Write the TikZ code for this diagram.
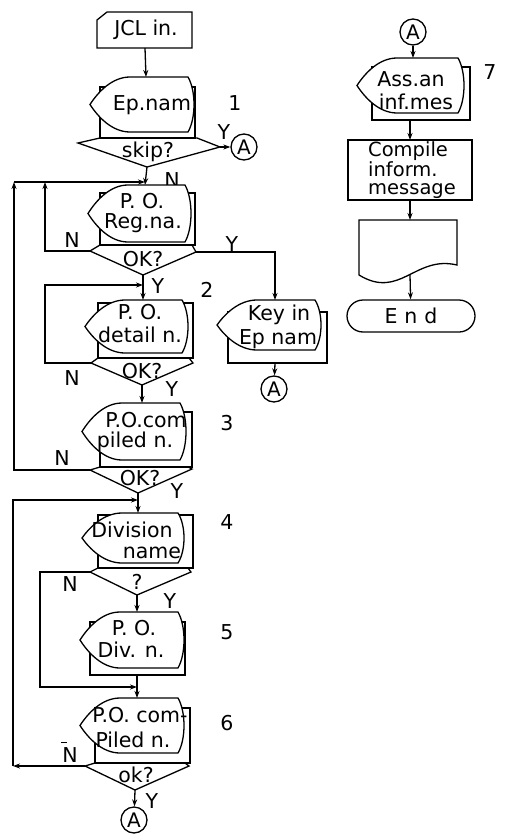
\documentclass[tikz,border=0pt]{standalone}
\usepackage{fontspec}
\setmainfont{DejaVu Sans}
\usetikzlibrary{arrows.meta}
\newcommand{\dispshape}[4]{%
  \draw[shp] (#1,{(#3+#4)/2})
    .. controls ({#1+8},{(#3+#4)/2-0.45*(#4-#3)/2}) and ({#1+22},#3) .. ({#1+40},#3)
    -- (#2,#3)
    .. controls ({#2+8},{#3+0.25*(#4-#3)}) and ({#2+8},{#4-0.25*(#4-#3)}) .. (#2,#4)
    -- ({#1+40},#4)
    .. controls ({#1+22},#4) and ({#1+8},{(#3+#4)/2+0.45*(#4-#3)/2}) .. (#1,{(#3+#4)/2})
    -- cycle;}
\begin{document}
\begin{tikzpicture}[x=1pt,y=-1pt,
  ln/.style={line width=1.3pt},
  arr/.style={line width=1.3pt,-{Stealth[length=7pt,width=5pt]}},
  shp/.style={draw,line width=1.3pt,fill=white},
  txt/.style={font=\fontsize{20.5}{22}\selectfont,inner sep=0pt},
  circ/.style={draw,circle,line width=1.3pt,minimum size=26pt,inner sep=0pt,font=\fontsize{20}{22}\selectfont}]
\useasboundingbox[fill=white] (0,0) rectangle (513,835);

% ---------- JCL card
\draw[shp] (97,20) -- (107,12) -- (192,12) -- (192,48) -- (97,48) -- cycle;
\node[txt] (jcl) at (146,30) {JCL in.};
\coordinate (jclb) at (145,48);

% ---------- display 1
\draw[shp] (100,87) rectangle (195,138);
\dispshape{90}{188}{77}{132}
\node[txt] (t1) at (152,105) {Ep.nam};
\coordinate (d1t) at (146,77);
\draw[ln] (100,138) -- (197,138) -- (220,147) -- (147,167) -- (78,143) -- cycle;
\node[txt] (q1) at (148,152) {skip?};
\coordinate (d1r) at (220,147);
\coordinate (d1b) at (147,167);
\node[circ] (a1) at (244,147) {A};
\node[txt] (y1) at (224,132) {Y};
\node[txt] (n1) at (172,180) {N};
\node[txt] (num1) at (235,103) {1};
\draw[arr] (jclb) -- (d1t);
\draw[arr] (d1r) -- (a1);

% ---------- display 2
\draw[shp] (100,193) rectangle (195,245);
\dispshape{88}{185}{185}{242}
\node[txt] (t2a) at (142,201) {P. O.};
\node[txt] (t2b) at (143,223) {Reg.na.};
\coordinate (d2t) at (145,185);
\draw[ln] (100,245) -- (192,245) -- (196,252) -- (143,275) -- (90,251) -- cycle;
\node[txt] (q2) at (143,259) {OK?};
\coordinate (d2l) at (90,251);
\coordinate (d2r) at (196,252);
\coordinate (d2b) at (143,275);
\node[txt] (n2) at (72,240) {N};
\node[txt] (y2r) at (232,244) {Y};
\node[txt] (y2) at (158,286) {Y};
\node[txt] (num2) at (207,290) {2};
\draw[arr] (d1b) -- (d2t);
\coordinate (j1a) at (14,182);
\coordinate (j1) at (145,182);
\draw[arr] (j1a) -- (j1);
\draw[arr] (d2l) -- (45,251) -- (45,182);

% ---------- key in
\draw[shp] (228,312) rectangle (327,363);
\dispshape{217}{315}{300}{350}
\node[txt] (tk1) at (279,315) {Key in};
\node[txt] (tk2) at (278,339) {Ep nam};
\coordinate (k1t) at (275,300);
\coordinate (k1b) at (275,363);
\node[circ] (a2) at (274,389) {A};
\draw[arr] (d2r) -- (d2r -| k1t) -- (k1t);
\draw[arr] (k1b) -- (a2);

% ---------- display 3
\draw[shp] (98,303) rectangle (193,358);
\dispshape{85}{182}{300}{353}
\node[txt] (t3a) at (140,312) {P. O.};
\node[txt] (t3b) at (140,335) {detail n.};
\coordinate (d3t) at (143,300);
\draw[ln] (98,358) -- (189,358) -- (193,363) -- (142,385) -- (91,363) -- cycle;
\node[txt] (q3) at (142,371) {OK?};
\coordinate (d3l) at (91,363);
\coordinate (d3b) at (142,385);
\node[txt] (n3) at (72,378) {N};
\node[txt] (y3) at (172,389) {Y};
\draw[arr] (d2b) -- (d3t);
\coordinate (j2) at (143,285);
\draw[arr] (d3l) -- (45,363) -- (45,285) -- (j2);

% ---------- display 4
\draw[shp] (100,412) rectangle (192,467);
\dispshape{82}{180}{403}{460}
\node[txt] (t4a) at (146,420) {P.O.com};
\node[txt] (t4b) at (135,442) {piled n.};
\node[txt] (num3) at (227,423) {3};
\coordinate (d4t) at (142,403);
\draw[ln] (100,467) -- (188,467) -- (192,469) -- (138,493) -- (90,470) -- cycle;
\node[txt] (q4) at (140,478) {OK?};
\coordinate (d4l) at (90,470);
\coordinate (d4b) at (138,493);
\node[txt] (n4) at (62,458) {N};
\node[txt] (y4) at (177,491) {Y};
\draw[arr] (d3b) -- (d4t);
\draw[arr] (d4l) -- (14,470) -- (j1a);

% ---------- display 5
\draw[shp] (98,515) rectangle (193,568);
\dispshape{82}{178}{513}{563}
\node[txt] (t5a) at (132,530) {Division};
\node[txt] (t5b) at (152,553) {name};
\node[txt] (num4) at (227,522) {4};
\coordinate (d5t) at (138,513);
\draw[ln] (98,568) -- (188,568) -- (191,572) -- (137,595) -- (90,572) -- cycle;
\node[txt] (q5) at (137,582) {?};
\coordinate (d5l) at (90,572);
\coordinate (d5b) at (137,595);
\node[txt] (n5) at (70,584) {N};
\node[txt] (y5) at (170,601) {Y};
\draw[arr] (d4b) -- (d5t);
\coordinate (j3) at (138,500);

% ---------- display 6
\draw[shp] (90,622) rectangle (185,675);
\dispshape{80}{178}{612}{668}
\node[txt] (t6a) at (134,628) {P. O.};
\node[txt] (t6b) at (131,650) {Div. n.};
\node[txt] (num5) at (227,632) {5};
\coordinate (d6t) at (137,612);
\coordinate (d6b) at (137,675);
\draw[arr] (d5b) -- (d6t);
\coordinate (j4) at (137,687);
\draw[arr] (d5l) -- (40,572) -- (40,687) -- (j4);

% ---------- display 7
\draw[shp] (95,708) rectangle (190,763);
\dispshape{80}{178}{698}{753}
\node[txt] (t7a) at (140,715) {P.O. com-};
\node[txt] (t7b) at (133,740) {Piled n.};
\node[txt] (num6) at (227,723) {6};
\coordinate (d7t) at (137,698);
\draw[arr] (d6b) -- (d7t);
\draw[ln] (95,763) -- (185,763) -- (189,766) -- (135,790) -- (85,766) -- cycle;
\node[txt] (q7) at (136,775) {ok?};
\coordinate (d7l) at (85,766);
\coordinate (d7b) at (135,790);
\node[txt] (n7) at (70,752) {\makebox[0pt][l]{\hspace{-1pt}\raisebox{19pt}{\rule{6pt}{1.2pt}}}N};
\node[txt] (y7) at (152,801) {Y};
\node[circ] (a3) at (134,820) {A};
\draw[arr] (d7b) -- (a3);
\coordinate (c7) at (13,766);
\draw[arr] (d7l) -- (c7);
\draw[arr] (c7) -- (13,500) -- (j3);

% ---------- right column
\node[circ] (a4) at (413,32) {A};
\draw[shp] (372,67) rectangle (470,120);
\dispshape{357}{458}{58}{113}
\node[txt] (t8a) at (411,79) {Ass.an};
\node[txt] (t8b) at (416,102) {inf.mes};
\node[txt] (num7) at (490,72) {7};
\coordinate (d8t) at (413,58);
\coordinate (d8b) at (410,120);
\draw[arr] (a4) -- (d8t);

\draw[shp] (348,140) rectangle (472,200);
\coordinate (cbt) at (410,140);
\coordinate (cbb) at (410,200);
\node[inner sep=0pt,anchor=west,align=left,font=\fontsize{19.5}{18}\selectfont] (comp) at (368,170) {Compile\\inform.\\message};
\draw[arr] (d8b) -- (cbt);

\draw[shp] (359,220) -- (457,220) -- (457,265) .. controls (415,255) and (400,300) .. (359,275) -- cycle;
\coordinate (doct) at (410,220);
\coordinate (docb) at (410,275);
\draw[arr] (cbb) -- (doct);

\node[draw,line width=1.3pt,rounded corners=16pt,minimum width=128pt,minimum height=32pt,inner sep=0pt,font=\fontsize{20.5}{22}\selectfont] (end) at (411,316) {E\hspace{7pt}n\hspace{7pt}d};
\draw[arr] (docb) -- (end);
\end{tikzpicture}
\end{document}
